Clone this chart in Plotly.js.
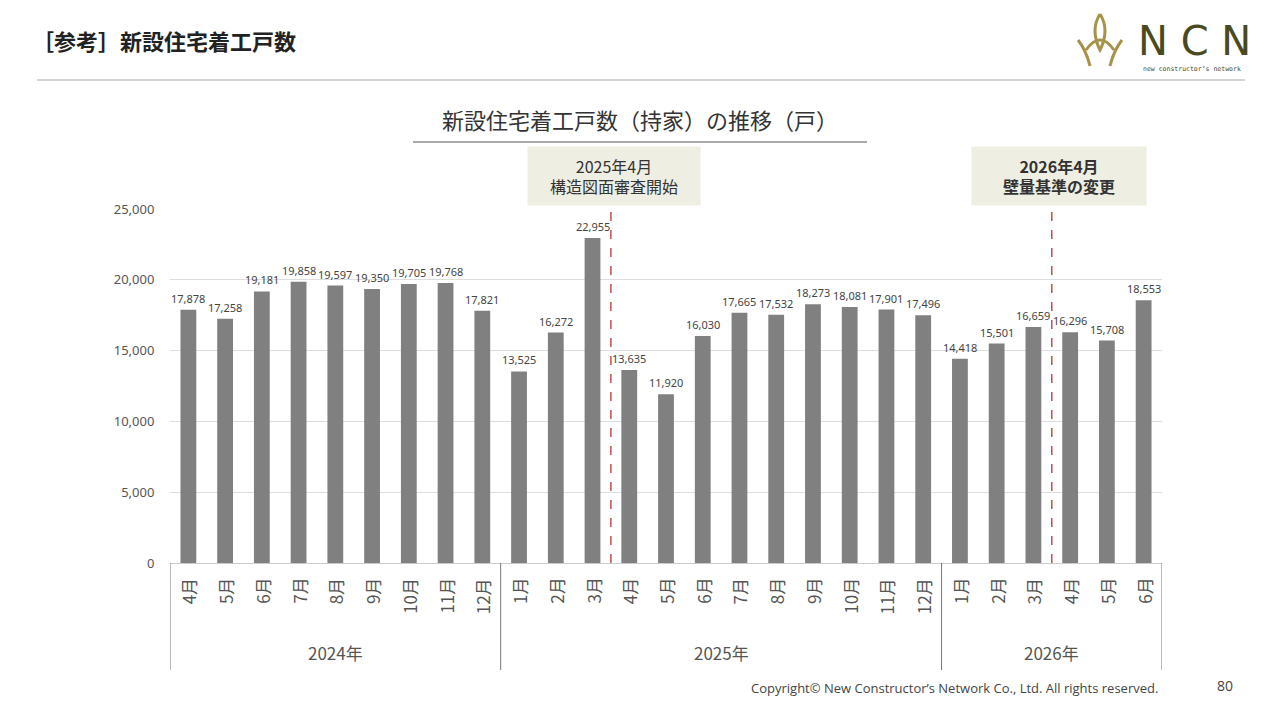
<!DOCTYPE html>
<html><head><meta charset="utf-8">
<script src="https://cdn.plot.ly/plotly-3.0.1.min.js"></script>
<style>body{margin:0;background:#fff}#c{width:1280px;height:720px}</style>
</head><body><div id="c"></div>
<script>
var months = ['4月','5月','6月','7月','8月','9月','10月','11月','12月',
  '1月','2月','3月','4月','5月','6月','7月','8月','9月','10月','11月','12月',
  '1月','2月','3月','4月','5月','6月'];
var starts = [17878,17258,19181,19858,19597,19350,19705,19768,17821,
  13525,16272,22955,13635,11920,16030,17665,17532,18273,18081,17901,17496,
  14418,15501,16659,16296,15708,18553];
var years = ['2024年','2025年','2026年'];
var yearSpans = [[-0.5,8.5],[8.5,20.5],[20.5,26.5]];
var events = [{x:11.5,label:'2025年4月<br>構造図面審査開始'},
              {x:23.5,label:'<b>2026年4月<br>壁量基準の変更</b>'}];

var L=170,R=1162,T=209,B=563;
function px(v){return (v-L)/(R-L);}
function py(v){return (B-v)/(B-T);}
var idx = months.map(function(_,i){return i;});
var font = 'Noto Sans CJK JP, Noto Sans, sans-serif';

var shapes = [], ann = [];
function A(o){o.showarrow=false;if(!o.xanchor)o.xanchor='center';if(!o.yanchor)o.yanchor='middle';ann.push(o);}
shapes.push({type:'line',xref:'paper',yref:'paper',x0:px(37),x1:px(1245),y0:py(80),y1:py(80),line:{color:'#aaa',width:1}});
shapes.push({type:'line',xref:'paper',yref:'paper',x0:px(413),x1:px(867),y0:py(142),y1:py(142),line:{color:'#555',width:1.2}});
[-0.5,8.5,20.5,26.5].forEach(function(b){
  shapes.push({type:'line',xref:'x',yref:'paper',x0:b,x1:b,y0:0,y1:py(670),line:{color:'#777',width:1}});
});
yearSpans.forEach(function(s,i){
  A({xref:'x',yref:'paper',x:(s[0]+s[1])/2,y:py(652),text:years[i],font:{size:17,color:'#555',family:font}});
});
months.forEach(function(m,i){
  A({xref:'x',yref:'paper',x:i,y:py(576),yanchor:'top',text:m,textangle:-90,font:{size:17,color:'#555',family:font}});
});
starts.forEach(function(v,i){
  A({xref:'x',yref:'y',x:i,y:v,yanchor:'bottom',yshift:2,text:v.toLocaleString('en-US'),font:{size:11,color:'#444',family:'Noto Sans, sans-serif'}});
});
events.forEach(function(e){
  shapes.push({type:'line',xref:'x',yref:'paper',x0:e.x,x1:e.x,y0:0,y1:py(205),line:{color:'#c0504d',width:1.5,dash:'dash'}});
});
A({xref:'paper',yref:'paper',x:px(614),y:py(176),text:events[0].label,bgcolor:'#efeee3',width:170,height:56,font:{size:16,color:'#333',family:font}});
A({xref:'paper',yref:'paper',x:px(1059),y:py(176),text:events[1].label,bgcolor:'#efeee3',width:172,height:56,font:{size:16,color:'#333',family:font}});
A({xref:'paper',yref:'paper',x:px(640),y:py(119),text:'新設住宅着工戸数（持家）の推移（戸）',font:{size:22,color:'#333',family:font}});
A({xref:'paper',yref:'paper',x:px(30),y:py(40),xanchor:'left',text:'<b>［参考］新設住宅着工戸数</b>',font:{size:22,color:'#222',family:font}});
A({xref:'paper',yref:'paper',x:px(1160),y:py(688),xanchor:'right',text:'Copyright© New Constructor’s Network Co., Ltd. All rights reserved.',font:{size:13,color:'#444',family:'Open Sans, sans-serif'}});
A({xref:'paper',yref:'paper',x:px(1225),y:py(685),text:'80',font:{size:14,color:'#444',family:'Open Sans, sans-serif'}});
A({xref:'paper',yref:'paper',x:px(1136),y:py(41),xanchor:'left',text:'N C N',font:{size:40,color:'#4a4a20',family:'DejaVu Sans, sans-serif'}});
A({xref:'paper',yref:'paper',x:px(1141),y:py(69),xanchor:'left',text:'new constructor’s network',font:{size:6.5,color:'#4a4a20',family:'DejaVu Sans Mono, monospace'}});
shapes.push({type:'path',xref:'paper',yref:'paper',
  path:'M'+px(1078)+','+py(40)+' Q'+px(1086)+','+py(50)+' '+px(1090)+','+py(66)+
       ' M'+px(1100)+','+py(14)+' Q'+px(1090)+','+py(30)+' '+px(1100)+','+py(50)+' Q'+px(1110)+','+py(30)+' '+px(1100)+','+py(14)+
       ' M'+px(1122)+','+py(40)+' Q'+px(1114)+','+py(50)+' '+px(1110)+','+py(66)+
       ' M'+px(1086)+','+py(50)+' Q'+px(1100)+','+py(30)+' '+px(1114)+','+py(50),
  line:{color:'#a8924a',width:3}});

Plotly.newPlot('c',[{
  type:'bar',x:idx,y:starts,marker:{color:'#808080'},width:0.43,hoverinfo:'none'
}],{
  width:1280,height:720,margin:{l:L,r:1280-R,t:T,b:720-B},
  paper_bgcolor:'#fff',plot_bgcolor:'#fff',showlegend:false,
  xaxis:{range:[-0.5,26.5],showticklabels:false,showgrid:false,zeroline:false,
    showline:true,linecolor:'#ccc',ticks:''},
  yaxis:{range:[0,25000],dtick:5000,tickformat:',',gridcolor:'#ddd',zeroline:false,
    tickfont:{size:13,color:'#555',family:'Noto Sans, sans-serif'},ticklen:12,tickcolor:'#fff'},
  shapes:shapes,annotations:ann
},{displayModeBar:false,staticPlot:true});
</script></body></html>
